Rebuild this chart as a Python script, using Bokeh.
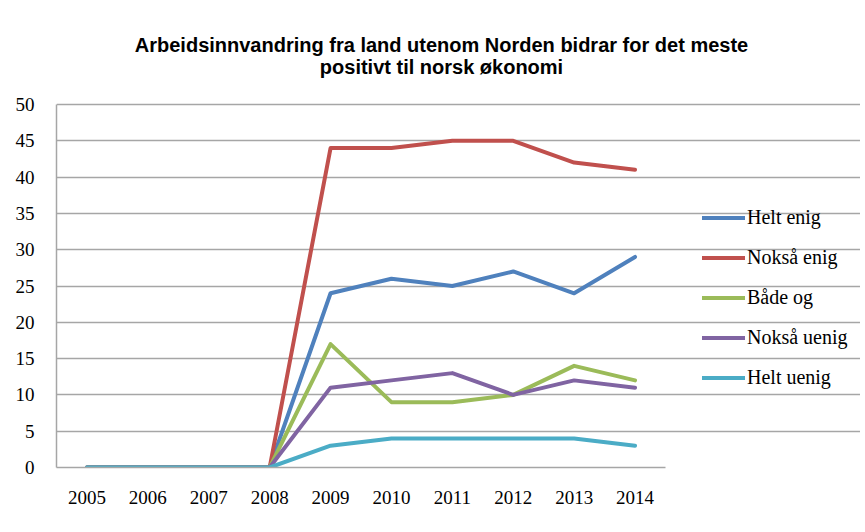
from bokeh.plotting import figure
from bokeh.models import Range1d, Legend, LegendItem, Label, FixedTicker
from bokeh.embed import file_html
from bokeh.resources import INLINE

years = ["2005", "2006", "2007", "2008", "2009", "2010", "2011", "2012", "2013", "2014"]
helt_enig = [0, 0, 0, 0, 24, 26, 25, 27, 24, 29]
noksa_enig = [0, 0, 0, 0, 44, 44, 45, 45, 42, 41]
bade_og = [0, 0, 0, 0, 17, 9, 9, 10, 14, 12]
noksa_uenig = [0, 0, 0, 0, 11, 12, 13, 10, 12, 11]
helt_uenig = [0, 0, 0, 0, 3, 4, 4, 4, 4, 3]
y_ticks = [0, 5, 10, 15, 20, 25, 30, 35, 40, 45, 50]
series_names = ["Helt enig", "Nokså enig", "Både og", "Nokså uenig", "Helt uenig"]
series_values = [helt_enig, noksa_enig, bade_og, noksa_uenig, helt_uenig]
colors = ["#4F81BD", "#C0504D", "#9BBB59", "#8064A2", "#4BACC6"]
title_lines = ["Arbeidsinnvandring fra land utenom Norden bidrar for det meste",
               "positivt til norsk økonomi"]

# layout in pixels
W, H = 860, 524
PL, PR, PT, PB = 56, 665, 104, 467          # plot-area box of the reference
FT = 2                                        # frame top (frame extended for title/legend)
xs = list(range(len(years)))
n = len(years)
x_lo, x_hi = -0.5, n - 0.5
px_per_x = (PR - PL) / n
x_end = x_hi + (W - PR) / px_per_x
y_max = y_ticks[-1]
px_per_y = (PB - PT) / y_max
y_end = y_max + (PT - FT) / px_per_y

p = figure(width=W, height=H, x_range=Range1d(x_lo, x_end), y_range=Range1d(0, y_end),
           output_backend="svg", toolbar_location=None,
           min_border_left=PL, min_border_right=0, min_border_top=FT,
           min_border_bottom=H - PB)
p.outline_line_color = None
p.xgrid.grid_line_color = None
p.ygrid.grid_line_color = "#A6A6A6"
p.ygrid.grid_line_width = 1.5
p.ygrid.bounds = (x_lo, x_hi)
p.ygrid.ticker = FixedTicker(ticks=y_ticks)
p.yaxis.ticker = FixedTicker(ticks=y_ticks)
p.yaxis.bounds = (0, y_max)
p.xaxis.ticker = FixedTicker(ticks=xs)
p.xaxis.bounds = (x_lo, x_hi)
p.xaxis.major_label_overrides = {i: y for i, y in zip(xs, years)}
for ax in (p.xaxis[0], p.yaxis[0]):
    ax.axis_line_color = "#A6A6A6"
    ax.axis_line_width = 1.5
    ax.major_tick_line_color = None
    ax.minor_tick_line_color = None
    ax.major_label_text_font = "Liberation Serif"
    ax.major_label_text_font_size = "19px"
    ax.major_label_text_color = "#000000"
p.yaxis.major_label_standoff = 16
p.xaxis.major_label_standoff = 17

items = []
for name, vals, c in zip(series_names, series_values, colors):
    r = p.line(xs, vals, line_color=c, line_width=4, line_join="round", line_cap="round")
    items.append(LegendItem(label=name, renderers=[r]))

legend = Legend(items=items, location=(702 - PL, 78), orientation="vertical",
                label_text_font="Liberation Serif", label_text_font_size="20px",
                label_text_color="#000000", glyph_width=43, glyph_height=23,
                label_height=23, label_standoff=2, spacing=17, padding=0, margin=0,
                border_line_color=None, background_fill_alpha=0)
p.add_layout(legend, "center")

for i, t in enumerate(title_lines):
    p.add_layout(Label(x=441 - PL, y=PB - 44 - 22 * i, x_units="screen", y_units="screen",
                       text=t, text_align="center", text_baseline="middle",
                       text_font="Liberation Sans", text_font_style="bold",
                       text_font_size="20px", text_color="#000000"))

open("out.html", "w").write(file_html(p, INLINE))
